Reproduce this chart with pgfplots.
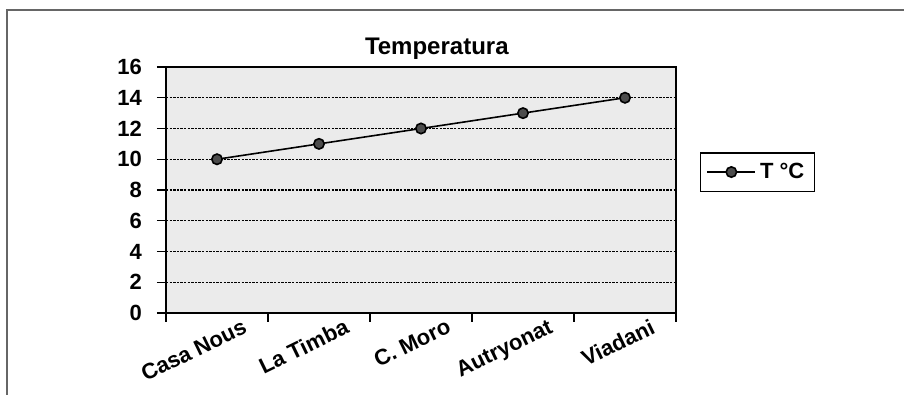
\documentclass[border=0pt]{standalone}
\usepackage{fontspec}
\setmainfont{Liberation Sans}
\usepackage{pgfplots}
\pgfplotsset{compat=1.18}
\begin{document}
\begin{tikzpicture}
\useasboundingbox (-83pt,-41pt) rectangle (369pt,156.5pt);
\draw[color=black!60, line width=1pt] (-79.5pt,-45pt) -- (-79.5pt,151.5pt) -- (372pt,151.5pt);
\begin{axis}[
  at={(0,0)}, anchor=south west,
  scale only axis, width=255pt, height=123pt,
  font=\bfseries\fontsize{11}{13}\selectfont,
  /pgf/number format/assume math mode=true,
  xmin=-0.5, xmax=4.5, ymin=0, ymax=16,
  ytick={0,2,...,16},
  xtick={-0.5,0.5,...,4.5}, xticklabels={},
  extra x ticks={0,1,2,3,4},
  extra x tick labels={Casa Nous,La Timba,C. Moro,Autryonat,Viadani},
  extra x tick style={major tick length=0pt, grid=none,
    xticklabel style={rotate=26, anchor=north east, xshift=11pt, yshift=-6.5pt, inner sep=1pt}},
  tick align=outside, major tick length=4.5pt,
  tick style={black, line width=0.7pt},
  xtick pos=bottom, ytick pos=left,
  yticklabel style={xshift=-4pt},
  ymajorgrids,
  major grid style={black, line width=0.7pt, dash pattern=on 1.2pt off 0.6pt},
  axis line style={black, line width=0.8pt},
  axis background/.style={fill=black!8},
  title={Temperatura},
  title style={at={(rel axis cs:0.531,1)}, anchor=base, yshift=0pt, font=\bfseries\fontsize{12}{14}\selectfont},
  legend style={at={(rel axis cs:1.047,0.573)}, anchor=west, draw=black, line width=0.7pt,
    inner xsep=3pt, inner ysep=3pt, font=\bfseries\fontsize{11}{13}\selectfont},
  legend cell align=left,
  legend image code/.code={\draw[mark repeat=2,mark phase=2,#1] plot coordinates {(0cm,0cm) (0.42cm,0cm) (0.84cm,0cm)};},
]
\addplot[black, line width=0.8pt, mark=*, mark size=2.6pt, mark options={fill=black!70, draw=black}]
  coordinates {(0,10) (1,11) (2,12) (3,13) (4,14)};
\addlegendentry{T °C}
\end{axis}
\end{tikzpicture}
\end{document}
